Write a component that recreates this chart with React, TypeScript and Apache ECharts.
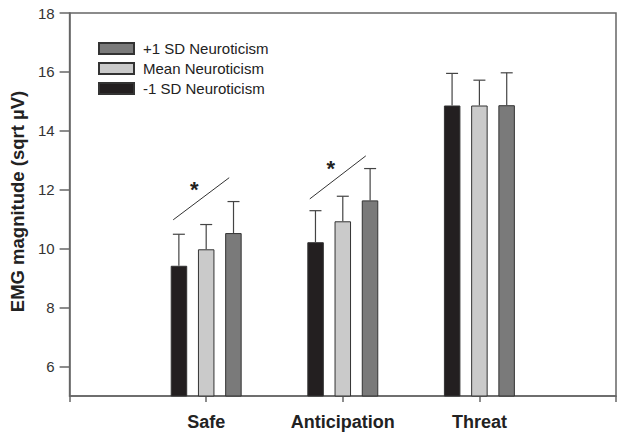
import React, { useEffect, useRef } from "react";
import * as echarts from "echarts";

const categories = ["", "Safe", "Anticipation", "Threat", ""];
const seriesNames = ["-1 SD Neuroticism", "Mean Neuroticism", "+1 SD Neuroticism"];
const legendOrder = ["+1 SD Neuroticism", "Mean Neuroticism", "-1 SD Neuroticism"];
const lowMeans = [9.42, 10.22, 14.86];
const midMeans = [9.98, 10.93, 14.86];
const highMeans = [10.53, 11.64, 14.87];
const lowErrTop = [10.49, 11.29, 15.95];
const midErrTop = [10.82, 11.78, 15.72];
const highErrTop = [11.6, 12.72, 15.97];
const yTicks = [6, 8, 10, 12, 14, 16, 18];
// significance annotations: category index, line start value, line end value, star value
const sigCats = [1, 2];
const sigStart = [10.98, 11.69];
const sigEnd = [12.41, 13.15];
const sigStar = [12.0, 12.72];

const colors = ["#231f20", "#cacaca", "#7a7a7a"];
const FONT = "'Liberation Sans', Arial, sans-serif";

function pad(arr: number[]) {
  return ["-", ...arr, "-"] as any[];
}

export default function App() {
  const ref = useRef<HTMLDivElement>(null);
  useEffect(() => {
    if (!ref.current) return;
    const chart = echarts.init(ref.current, undefined, { renderer: "svg" });
    const means = [lowMeans, midMeans, highMeans];
    const errs = [lowErrTop, midErrTop, highErrTop];
    const errData: any[] = [];
    means.forEach((m, s) => {
      m.forEach((v, c) => errData.push([c + 1, v, errs[s][c], s]));
    });
    const sigData = sigCats.map((c, i) => [c, sigStart[i], sigEnd[i], sigStar[i]]);

    const option: any = {
      animation: false,
      grid: {
        left: 68,
        right: 8,
        top: 13,
        bottom: 43,
        show: true,
        borderColor: "#666",
        borderWidth: 1.5,
        containLabel: false,
      },
      legend: {
        orient: "vertical",
        left: 93,
        top: 36,
        data: legendOrder,
        itemWidth: 35,
        itemHeight: 11,
        itemGap: 5,
        icon: "rect",
        textStyle: {
          fontFamily: FONT,
          fontSize: 15,
          color: "#222",
          lineHeight: 15,
          padding: [0, 0, 0, 4],
        },
      },
      xAxis: {
        type: "category",
        data: categories,
        boundaryGap: false,
        axisLine: { lineStyle: { color: "#666", width: 1.5 } },
        axisTick: { show: true, length: 6, lineStyle: { color: "#666", width: 1.5 } },
        axisLabel: {
          interval: 0,
          margin: 17,
          fontFamily: FONT,
          fontSize: 18,
          fontWeight: "bold",
          color: "#222",
        },
        splitLine: { show: false },
      },
      yAxis: {
        type: "value",
        min: 5,
        max: 18,
        name: "EMG magnitude (sqrt µV)",
        nameLocation: "middle",
        nameGap: 40,
        nameTextStyle: {
          fontFamily: FONT,
          fontSize: 18.5,
          fontWeight: "bold",
          color: "#222",
          padding: [0, 0, 0, 6],
        },
        axisLine: { show: true, lineStyle: { color: "#666", width: 1.5 } },
        axisTick: {
          show: true,
          length: 10,
          customValues: yTicks,
          lineStyle: { color: "#666", width: 1.5 },
        },
        axisLabel: {
          margin: 15,
          customValues: yTicks,
          fontFamily: FONT,
          fontSize: 15,
          color: "#333",
        },
        splitLine: { show: false },
      },
      series: [
        ...seriesNames.map((name, s) => ({
          name,
          type: "bar",
          data: pad(means[s]),
          barWidth: 16.5,
          barGap: "65%",
          itemStyle: { color: colors[s], borderColor: "#333", borderWidth: 1 },
          z: 2,
        })),
        {
          type: "custom",
          data: errData,
          z: 3,
          silent: true,
          renderItem: (params: any, api: any) => {
            const c = api.value(0);
            const v = api.value(1);
            const e = api.value(2);
            const s = api.value(3);
            const band = api.size([1, 0])[0];
            const off = (s - 1) * band * 0.2;
            const p0 = api.coord([c, v]);
            const p1 = api.coord([c, e]);
            const x = p0[0] + off;
            const st = { stroke: "#444", lineWidth: 1.2 };
            return {
              type: "group",
              children: [
                { type: "line", shape: { x1: x, y1: p0[1], x2: x, y2: p1[1] }, style: st },
                { type: "line", shape: { x1: x - 6, y1: p1[1], x2: x + 6, y2: p1[1] }, style: st },
              ],
            };
          },
        },
        {
          type: "custom",
          data: sigData,
          z: 3,
          silent: true,
          renderItem: (params: any, api: any) => {
            const c = api.value(0);
            const a = api.coord([c, api.value(1)]);
            const b = api.coord([c, api.value(2)]);
            const st = api.coord([c, api.value(3)]);
            return {
              type: "group",
              children: [
                {
                  type: "line",
                  shape: { x1: a[0] - 33, y1: a[1], x2: b[0] + 23, y2: b[1] },
                  style: { stroke: "#333", lineWidth: 1 },
                },
                {
                  type: "text",
                  x: st[0] - 12,
                  y: st[1],
                  style: {
                    text: "*",
                    fontFamily: FONT,
                    fontSize: 22,
                    fontWeight: "bold",
                    fill: "#222",
                    align: "center",
                    verticalAlign: "middle",
                  },
                },
              ],
            };
          },
        },
      ],
    };
    chart.setOption(option);
    return () => chart.dispose();
  }, []);
  return (
    <div
      ref={ref}
      style={{ position: "fixed", left: 0, top: 0, width: 624, height: 439, background: "#fff" }}
    />
  );
}
